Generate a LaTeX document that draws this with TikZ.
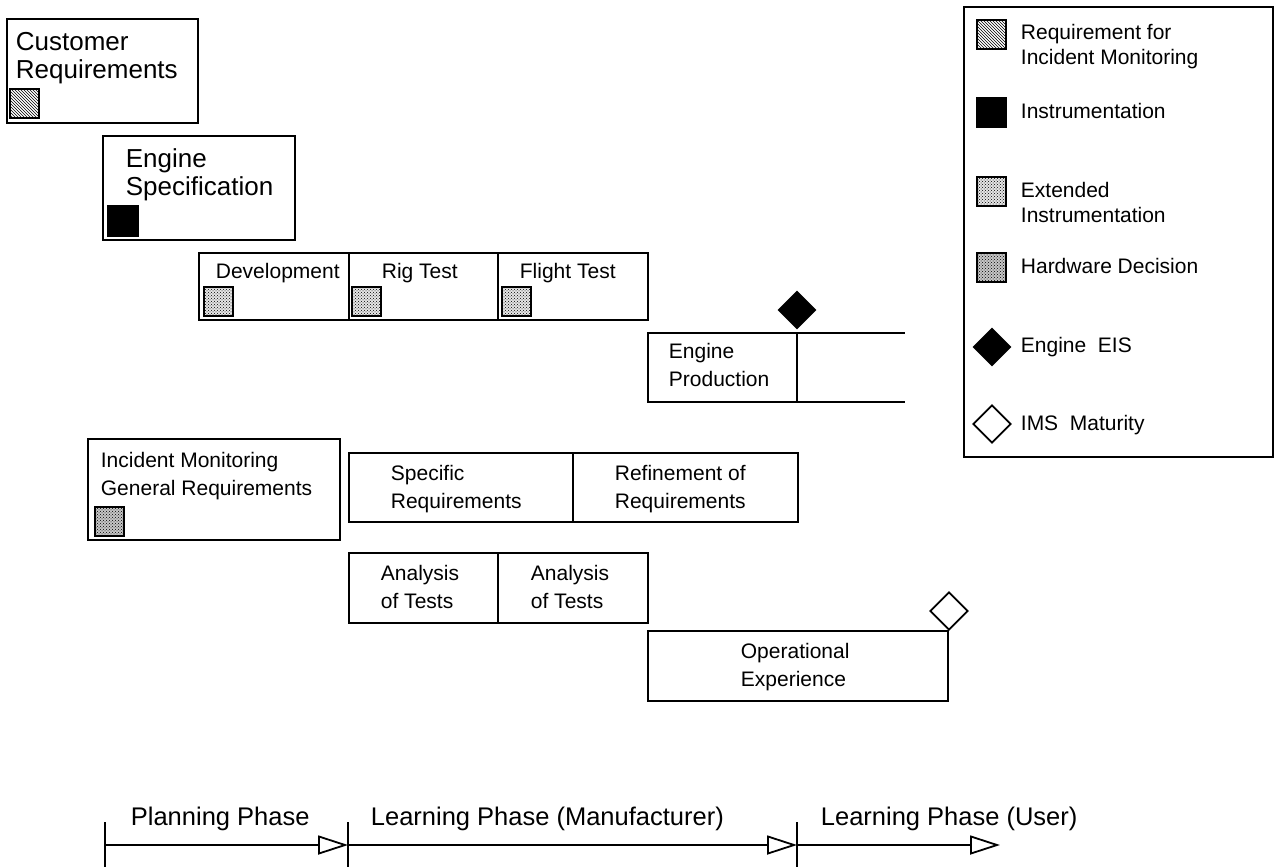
\documentclass[tikz,border=0pt]{standalone}
\usepackage{fontspec}
\setmainfont{Liberation Sans}
\usetikzlibrary{positioning,patterns,shapes.geometric,arrows.meta}

\begin{document}
\begin{tikzpicture}[x=1pt, y=-1pt, line width=1.8pt,
  box/.style={draw, rectangle, anchor=north west, inner sep=0pt, outer sep=0pt},
  big/.style={anchor=base west, inner sep=0pt, align=left, font=\fontsize{26}{28}\selectfont},
  txt/.style={anchor=base west, inner sep=0pt, align=left, font=\fontsize{21}{28}\selectfont},
  key/.style={anchor=base west, inner sep=0pt, align=left, font=\fontsize{21}{25}\selectfont},
  phase/.style={anchor=base west, inner sep=0pt, font=\fontsize{25.5}{28}\selectfont},
  swatch/.style={draw, line width=1.3pt, rectangle, anchor=north west, inner sep=0pt, outer sep=0pt, minimum size=29pt},
  req/.style={swatch, pattern=north west lines},
  inst/.style={swatch, fill=black},
  ext/.style={swatch, preaction={fill=gray!20}, pattern=crosshatch dots},
  hw/.style={swatch, preaction={fill=gray!45}, pattern=crosshatch dots},
  eis/.style={diamond, draw, fill=black, inner sep=0pt, minimum size=37pt},
  ims/.style={diamond, draw, fill=white, inner sep=0pt, minimum size=38pt},
  phasearrow/.style={-{Triangle[open, length=30pt, width=19pt]}}]

  \useasboundingbox (0,0) rectangle (1274,867);

  % planning boxes (text nodes sit on their last baseline)
  \node[box, minimum width=191pt, minimum height=104pt] (cust) at (7,19) {};
  \node[big] (custtxt) at (15,78) {Customer\\Requirements};
  \node[req] (custsq) at (10,89) {};

  \node[box, minimum width=192pt, minimum height=104pt] (spec) at (103,136) {};
  \node[big] (spectxt) at (125,195) {Engine\\Specification};
  \node[inst, minimum size=30pt] (specsq) at (108,206) {};

  \node[box, minimum width=150pt, minimum height=67pt] (dev) at (199,253) {};
  \node[box, minimum width=149pt, minimum height=67pt] (rig) at (dev.north east) {};
  \node[box, minimum width=150pt, minimum height=67pt] (flight) at (rig.north east) {};
  \node[txt] (devtxt) at (215,278) {Development};
  \node[txt] (rigtxt) at (381,278) {Rig Test};
  \node[txt] (flighttxt) at (519,278) {Flight Test};
  \node[ext] (devsq) at (204,287) {};
  \node[ext] (rigsq) at (352,287) {};
  \node[ext] (flightsq) at (502,287) {};

  \node[box, minimum width=149pt, minimum height=69pt] (prod) at (648,333) {};
  \node[txt] (prodtxt) at (668,386) {Engine\\Production};
  \coordinate (prodtop) at (905,333);
  \coordinate (prodbot) at (905,402);
  \draw (prod.north east) -- (prodtop);
  \draw (prod.south east) -- (prodbot);
  \node[eis] (eis) at (797,310) {};

  % incident monitoring boxes
  \node[box, minimum width=252pt, minimum height=101pt] (incid) at (88,439) {};
  \node[txt] (incidtxt) at (100,495) {Incident Monitoring\\General Requirements};
  \node[hw] (incidsq) at (95,507) {};

  \node[box, minimum width=224pt, minimum height=69pt] (specreq) at (349,453) {};
  \node[box, minimum width=225pt, minimum height=69pt] (refine) at (specreq.north east) {};
  \node[txt] (specreqtxt) at (390,508) {Specific\\Requirements};
  \node[txt] (refinetxt) at (614,508) {Refinement of\\Requirements};

  \node[box, minimum width=149pt, minimum height=70pt] (ana1) at (349,553) {};
  \node[box, minimum width=150pt, minimum height=70pt] (ana2) at (ana1.north east) {};
  \node[txt] (ana1txt) at (380,608) {Analysis\\of Tests};
  \node[txt] (ana2txt) at (530,608) {Analysis\\of Tests};

  \node[box, minimum width=300pt, minimum height=70pt] (oper) at (648,631) {};
  \node[txt] (opertxt) at (740,686) {Operational\\Experience};
  \node[ims] (ims) at (949,611) {};

  % legend
  \node[box, line width=1.3pt, minimum width=309pt, minimum height=450pt] (legend) at (964,7) {};
  \node[req] (keyreq) at (977,20) {};
  \node[key] (keyreqtxt) at (1020,65) {Requirement for\\Incident Monitoring};
  \node[inst] (keyinst) at (977,98) {};
  \node[key] (keyinsttxt) at (1020,118) {Instrumentation};
  \node[ext] (keyext) at (977,177) {};
  \node[key] (keyexttxt) at (1020,222) {Extended\\Instrumentation};
  \node[hw] (keyhw) at (977,253) {};
  \node[key] (keyhwtxt) at (1020,273) {Hardware Decision};
  \node[eis] (keyeis) at (992,347) {};
  \node[key] (keyeistxt) at (1020,352) {Engine\ \ EIS};
  \node[ims] (keyims) at (992,424) {};
  \node[key] (keyimstxt) at (1020,430) {IMS\ \ Maturity};

  % phases
  \coordinate (t0) at (105,845);
  \coordinate (t1) at (348,845);
  \coordinate (t2) at (797,845);
  \coordinate (t3) at (1000,845);
  \foreach \t in {t0,t1,t2}
    \draw[line width=1.3pt] ([yshift=-23pt]\t) -- ([yshift=23pt]\t);
  \draw[phasearrow] (t0) -- (t1);
  \draw[phasearrow] (t1) -- (t2);
  \draw[phasearrow] (t2) -- (t3);
  \node[phase] (plan) at (130,825) {Planning Phase};
  \node[phase] (learnman) at (370,825) {Learning Phase (Manufacturer)};
  \node[phase] (learnuser) at (820,825) {Learning Phase (User)};

\end{tikzpicture}
\end{document}
